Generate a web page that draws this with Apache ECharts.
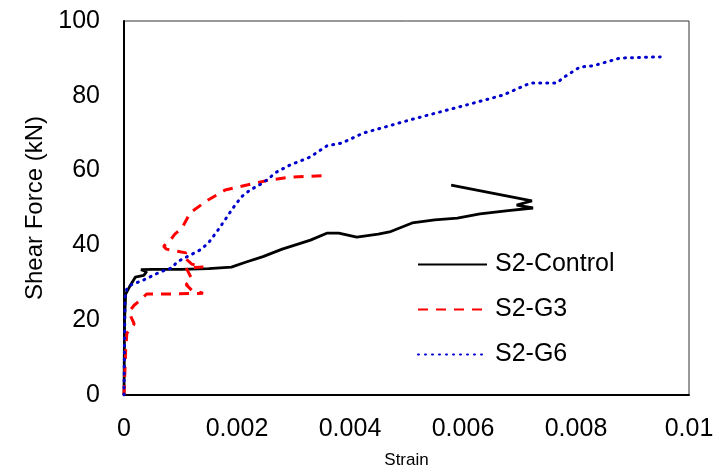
<!DOCTYPE html>
<html>
<head>
<meta charset="utf-8">
<script src="https://cdn.jsdelivr.net/npm/echarts@6/dist/echarts.min.js"></script>
<style>
  html, body { margin: 0; padding: 0; background: #fff; }
  #chart { width: 719px; height: 472px; }
</style>
</head>
<body>
<div id="chart"></div>
<script>
// [strain, shear force kN]
const controlData = [
  [0, 0], [0.00001, 20], [0.00003, 27], [0.0001, 29], [0.0002, 31.5], [0.00035, 32],
  [0.0004, 33], [0.0003, 33.5], [0.0005, 33.6], [0.001, 33.6], [0.0015, 33.8],
  [0.0019, 34.2], [0.00215, 35.5], [0.00246, 37], [0.0028, 39], [0.0033, 41.4],
  [0.0036, 43.3], [0.0038, 43.3], [0.00412, 42.2], [0.0045, 43], [0.0047, 43.6],
  [0.0051, 46], [0.0055, 46.8], [0.0059, 47.3], [0.0063, 48.4], [0.0068, 49.3],
  [0.00724, 50], [0.00695, 50.8], [0.00722, 51.9], [0.00579, 56.1]
];

const g3Data = [
  [0, 0], [0.00003, 12], [0.00005, 16.5], [0.0001, 17.5], [0.00018, 19], [0.00012, 21],
  [0.0001, 22.5], [0.00018, 24], [0.0003, 25.5], [0.0004, 27], [0.0008, 27], [0.0014, 27.2],
  [0.0012, 28], [0.0011, 29.5], [0.0012, 31], [0.00115, 32.5], [0.0011, 34], [0.0014, 34.2],
  [0.0012, 35], [0.00105, 37], [0.0011, 38], [0.00075, 39], [0.0007, 39.8], [0.0008, 41],
  [0.0009, 43], [0.00103, 44.7], [0.00117, 48.7], [0.00147, 52], [0.00179, 54.8],
  [0.0021, 55.9], [0.00258, 57.5], [0.00297, 58.3], [0.0035, 58.6]
];

const g6Data = [
  [0, 0], [0.00001, 15], [0.00002, 26], [0.00005, 28.5], [0.00012, 29.4], [0.00034, 30.7],
  [0.00064, 32.9], [0.00085, 34], [0.00094, 35.6], [0.00117, 37.4], [0.00135, 38.8],
  [0.00149, 40.6], [0.00156, 42], [0.00164, 43.6], [0.00175, 46], [0.00193, 50],
  [0.00208, 53], [0.00223, 54.8], [0.00246, 56.7], [0.0027, 59.6], [0.00294, 61.5],
  [0.00329, 63.6], [0.00359, 66.6], [0.00386, 67.4], [0.00423, 70], [0.00512, 73.8],
  [0.006, 77.3], [0.00671, 80.2], [0.00719, 83.4], [0.00766, 83.4], [0.00777, 84.8],
  [0.00807, 87.7], [0.0083, 88], [0.00878, 90.1], [0.00949, 90.4]
];

const seriesNames = ["S2-Control", "S2-G3", "S2-G6"];
const FONT = "Liberation Sans, Arial, sans-serif";

const chart = echarts.init(document.getElementById("chart"));

chart.setOption({
  animation: false,
  grid: {
    left: 124,
    right: 30,
    top: 21,
    bottom: 77,
    outerBoundsMode: "none",
    show: true,
    borderColor: "#333",
    borderWidth: 1
  },
  legend: {
    orient: "vertical",
    left: 417,
    top: 252,
    padding: 0,
    itemWidth: 69,
    itemHeight: 14,
    itemGap: 20,
    data: seriesNames,
    itemStyle: { opacity: 0 },
    textStyle: {
      fontFamily: FONT,
      fontSize: 25,
      color: "#000",
      lineHeight: 25,
      padding: [0, 0, 0, 3]
    }
  },
  xAxis: {
    type: "value",
    min: 0,
    max: 0.01,
    interval: 0.002,
    name: "Strain",
    nameLocation: "middle",
    nameGap: 57,
    nameTextStyle: { fontFamily: FONT, fontSize: 17, color: "#000" },
    axisLine: { lineStyle: { color: "#000", width: 2 } },
    axisTick: { show: false },
    splitLine: { show: false },
    axisLabel: { fontFamily: FONT, fontSize: 25, color: "#000", margin: 22 }
  },
  yAxis: {
    type: "value",
    min: 0,
    max: 100,
    interval: 20,
    name: "Shear Force (kN)",
    nameLocation: "middle",
    nameGap: 68,
    nameTextStyle: { fontFamily: FONT, fontSize: 24, color: "#000" },
    axisLine: { show: true, lineStyle: { color: "#000", width: 2 } },
    axisTick: { show: false },
    splitLine: { show: false },
    axisLabel: { fontFamily: FONT, fontSize: 25, color: "#000", margin: 24 }
  },
  series: [
    {
      name: seriesNames[0],
      type: "line",
      data: controlData,
      symbol: "none",
      lineStyle: { color: "#000", width: 2.8 },
      itemStyle: { color: "#000" }
    },
    {
      name: seriesNames[1],
      type: "line",
      data: g3Data,
      symbol: "none",
      lineStyle: { color: "#ff0000", width: 3, type: [10, 8] },
      itemStyle: { color: "#ff0000" }
    },
    {
      name: seriesNames[2],
      type: "line",
      data: g6Data,
      symbol: "none",
      lineStyle: { color: "#0000cc", width: 3, type: [1, 6], cap: "round" },
      itemStyle: { color: "#0000cc" }
    }
  ]
});
</script>
</body>
</html>
